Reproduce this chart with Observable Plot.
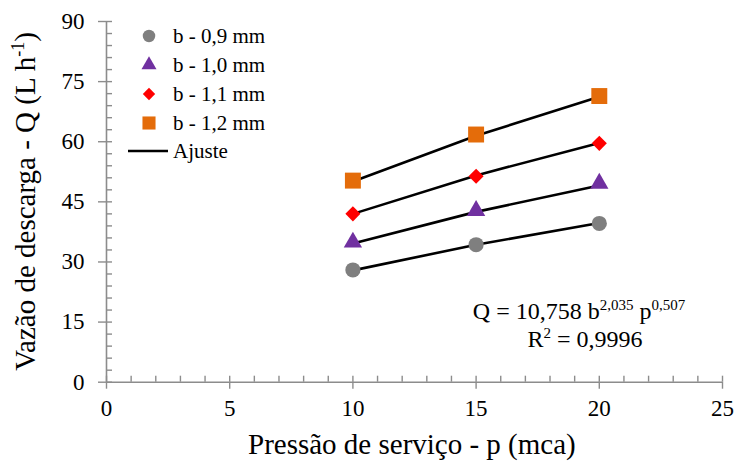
<!DOCTYPE html>
<html>
<head>
<meta charset="utf-8">
<script src="https://cdn.jsdelivr.net/npm/d3@7"></script>
<script src="https://cdn.jsdelivr.net/npm/@observablehq/plot@0.6"></script>
<style>
  html, body { margin: 0; padding: 0; background: #fff; font-family: "Liberation Serif"; }
  #chart svg { display: block; }
  #xtitle { width: 734px; height: 37px; line-height: 37px; font-family: "Liberation Serif"; font-size: 29px; color: #000; text-align: left; padding-left: 248px; box-sizing: border-box; white-space: nowrap; }
</style>
</head>
<body>
<div id="chart"></div>
<div id="xtitle"></div>
<script>
// ---- data ----
const pressure = [10, 15, 20];
const seriesNames = ["b - 0,9 mm", "b - 1,0 mm", "b - 1,1 mm", "b - 1,2 mm"];
const observed = {
  "b - 0,9 mm": [28.0, 34.3, 39.6],
  "b - 1,0 mm": [34.9, 42.8, 49.6],
  "b - 1,1 mm": [42.0, 51.4, 59.6],
  "b - 1,2 mm": [50.3, 61.8, 71.4]
};
const fitted = {
  "b - 0,9 mm": [27.9, 34.3, 39.7],
  "b - 1,0 mm": [34.6, 42.5, 49.1],
  "b - 1,1 mm": [42.0, 51.6, 59.7],
  "b - 1,2 mm": [50.1, 61.5, 71.2]
};
const xMajorTicks = [0, 5, 10, 15, 20, 25];
const xMinorTicks = d3.range(0, 26, 1);
const yMajorTicks = [0, 15, 30, 45, 60, 75, 90];
const yMinorTicks = d3.range(0, 91, 3);
const fitLabel = "Ajuste";
const xTitle = "Pressão de serviço - p (mca)";

// ---- styles ----
const colors = ["#7F7F7F", "#7030A0", "#FF0000", "#E46C0A"];
const symbols = ["circle", "triangle", "diamond2", "square"];
const radii = [7.6, 6.8, 6.8, 9];
const axisColor = "#8c8c8c";
const FF = "Liberation Serif";

const obsRows = [];
const fitRows = [];
seriesNames.forEach(s => {
  pressure.forEach((p, i) => {
    obsRows.push({series: s, p, q: observed[s][i]});
    fitRows.push({series: s, p, q: fitted[s][i]});
  });
});

const W = 734, H = 426;
const mL = 106, mR = 12, mT = 21, mB = 44.3;

const marks = [
  Plot.ruleX([0], {stroke: axisColor, strokeWidth: 1.6}),
  Plot.ruleY([0], {stroke: axisColor, strokeWidth: 1.6}),
  Plot.axisY(yMajorTicks, {anchor: "left", tickSize: 8, tickPadding: 14, stroke: axisColor, strokeWidth: 1.4, fill: "black", fontSize: 23, fontFamily: FF, label: null}),
  Plot.axisY(yMinorTicks, {anchor: "left", tickSize: 6, dx: 6, stroke: axisColor, strokeWidth: 1.4, tickFormat: () => "", label: null}),
  Plot.axisX(xMajorTicks, {anchor: "bottom", tickSize: 7, tickPadding: 10, stroke: axisColor, strokeWidth: 1.4, fill: "black", fontSize: 23, fontFamily: FF, label: null}),
  Plot.axisX(xMinorTicks, {anchor: "bottom", tickSize: 6, dy: -6, stroke: axisColor, strokeWidth: 1.4, tickFormat: () => "", label: null}),
  Plot.line(fitRows, {x: "p", y: "q", z: "series", stroke: "black", strokeWidth: 2.6})
];
seriesNames.forEach((s, i) => {
  marks.push(Plot.dot(obsRows.filter(d => d.series === s), {
    x: "p", y: "q", symbol: () => symbols[i], fill: colors[i], r: radii[i], stroke: "none"
  }));
});

const chart = Plot.plot({
  width: W, height: H,
  marginLeft: mL, marginRight: mR, marginTop: mT, marginBottom: mB,
  x: {domain: [0, 25], axis: null},
  y: {domain: [0, 90], axis: null},
  symbol: {type: "identity"},
  style: {fontFamily: FF, fontSize: "22px", color: "black", background: "white"},
  marks
});
document.getElementById("chart").appendChild(chart);
document.getElementById("xtitle").textContent = xTitle;

// ---- texts, legend ----
const svg = d3.select(chart);
const cy = (mT + (H - mB)) / 2;

function addText(sel) {
  return sel.append("text").attr("font-family", FF).attr("fill", "black");
}

const yt = addText(svg)
  .attr("transform", `translate(35,${cy}) rotate(-90)`)
  .attr("text-anchor", "middle")
  .attr("font-size", 29);
yt.append("tspan").text("Vazão de descarga - Q (L h");
yt.append("tspan").attr("dy", -11).attr("font-size", 18).text("-1");
yt.append("tspan").attr("dy", 11).text(")");

const a1 = addText(svg)
  .attr("x", 579).attr("y", 319)
  .attr("text-anchor", "middle")
  .attr("font-size", 24);
a1.append("tspan").text("Q = 10,758 b");
a1.append("tspan").attr("dy", -9).attr("font-size", 15).text("2,035");
a1.append("tspan").attr("dy", 9).text(" p");
a1.append("tspan").attr("dy", -9).attr("font-size", 15).text("0,507");
const a2 = addText(svg)
  .attr("x", 585).attr("y", 347)
  .attr("text-anchor", "middle")
  .attr("font-size", 24);
a2.append("tspan").text("R");
a2.append("tspan").attr("dy", -9).attr("font-size", 15).text("2");
a2.append("tspan").attr("dy", 9).text(" = 0,9996");

const symMap = {circle: d3.symbolCircle, triangle: d3.symbolTriangle, diamond2: d3.symbolDiamond2, square: d3.symbolSquare};
const lg = svg.append("g");
seriesNames.forEach((s, i) => {
  const y = 36 + i * 29;
  const r = radii[i] * 0.82;
  lg.append("path")
    .attr("transform", `translate(149,${y})`)
    .attr("d", d3.symbol(symMap[symbols[i]], r * r * Math.PI)())
    .attr("fill", colors[i]);
  addText(lg)
    .attr("x", 173).attr("y", y + 7)
    .attr("text-anchor", "start")
    .attr("font-size", 21)
    .text(s);
});
lg.append("line")
  .attr("x1", 128).attr("x2", 168).attr("y1", 151).attr("y2", 151)
  .attr("stroke", "black").attr("stroke-width", 2.4);
addText(lg)
  .attr("x", 173).attr("y", 158)
  .attr("text-anchor", "start")
  .attr("font-size", 21)
  .text(fitLabel);
</script>
</body>
</html>
